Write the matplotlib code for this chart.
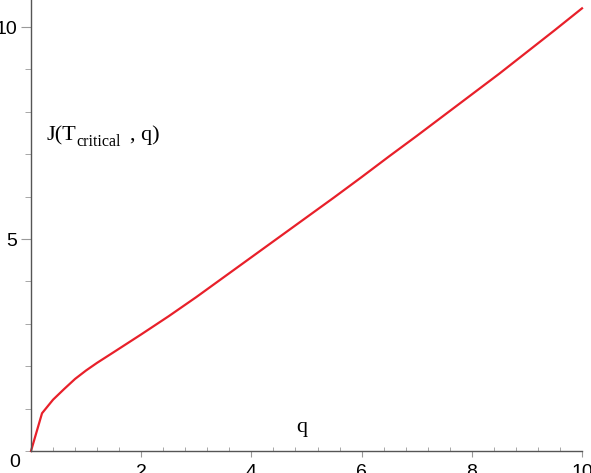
import matplotlib
matplotlib.use("Agg")
import matplotlib.pyplot as plt
from matplotlib.ticker import MultipleLocator

q_vals = [0.0, 0.2, 0.4, 0.6, 0.8, 1.0, 1.2, 1.5, 2.0, 2.5, 3.0, 3.5, 4.0,
          4.5, 5.0, 5.5, 6.0, 6.5, 7.0, 7.5, 8.0, 8.5, 9.0, 9.5, 10.0]
j_vals = [0.0, 0.89, 1.21, 1.46, 1.70, 1.90, 2.08, 2.33, 2.75, 3.18, 3.63, 4.10, 4.57,
          5.04, 5.51, 5.98, 6.46, 6.95, 7.43, 7.92, 8.41, 8.90, 9.41, 9.92, 10.44]

x_ticks = [2, 4, 6, 8, 10]
y_ticks = [5, 10]

W, H = 591, 473
fig = plt.figure(figsize=(W / 100, H / 100), dpi=100)
# ejes: origen en pixel (31, 451), x=10 en pixel 582, y=10 en pixel 27
ax = fig.add_axes([31 / W, 22 / H, 560 / W, 451 / H])
ax.set_xlim(0, 560 / 55.1)
ax.set_ylim(0, 451 / 42.4)

ax.plot(q_vals, j_vals, color="#e8202a", lw=1.6, clip_on=False)

for s in ["top", "right"]:
    ax.spines[s].set_visible(False)
for s in ["left", "bottom"]:
    ax.spines[s].set_color("#555555")
    ax.spines[s].set_linewidth(1.0)
ax.spines["bottom"].set_bounds(0, 10)

ax.set_xticks(x_ticks)
ax.set_yticks(y_ticks)
ax.xaxis.set_minor_locator(MultipleLocator(0.4))
ax.yaxis.set_minor_locator(MultipleLocator(1))

lab_font = dict(family=["Liberation Sans", "DejaVu Sans"], size=14)
ax.set_xticklabels([str(t) for t in x_ticks], **lab_font)
ax.set_yticklabels([str(t) for t in y_ticks], **lab_font)
ax.tick_params(axis="x", which="major", direction="out", length=4, pad=5, color="#999999")
ax.tick_params(axis="x", which="minor", direction="in", length=3, color="#999999")
ax.tick_params(axis="y", which="major", direction="out", length=7, pad=3, color="#999999")
ax.tick_params(axis="y", which="minor", direction="out", length=4, color="#999999")

# el "0" de la esquina
ax.text(-0.2, -0.07, "0", ha="right", va="top", **lab_font, clip_on=False)

serif = ["Liberation Serif", "DejaVu Serif"]
ax.text(0.29, 7.33, "J(T", family=serif, size=16, ha="left", va="baseline")
ax.text(0.83, 7.2, "critical", family=serif, size=11.5, ha="left", va="baseline")
ax.text(1.79, 7.33, ", q)", family=serif, size=16, ha="left", va="baseline")
ax.text(4.81, 0.455, "q", family=serif, size=16, ha="left", va="baseline")

fig.savefig("out.png", dpi=100)
